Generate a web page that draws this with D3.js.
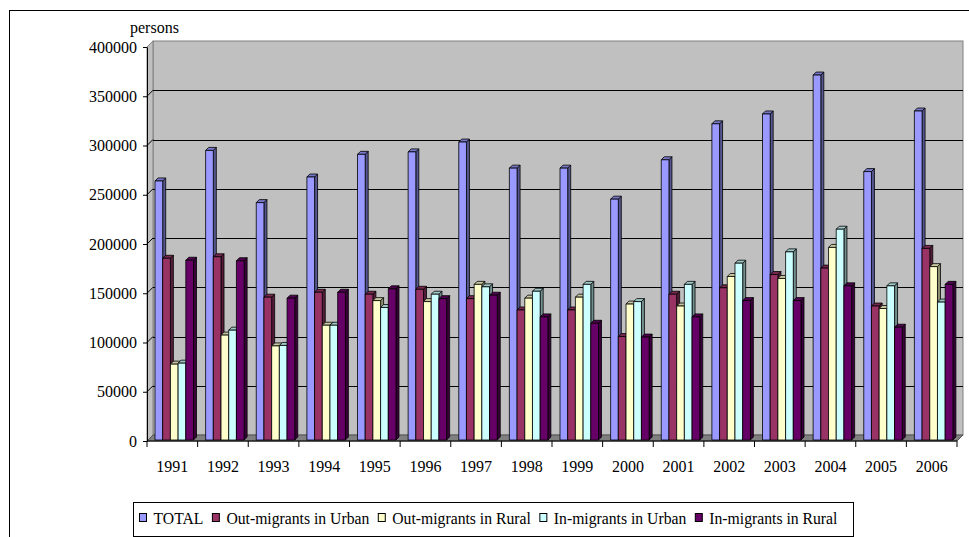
<!DOCTYPE html>
<html>
<head>
<meta charset="utf-8">
<script src="https://cdn.jsdelivr.net/npm/d3@7"></script>
<style>
  html, body { margin: 0; padding: 0; background: #fff; }
  svg { display: block; font-family: "Liberation Serif", "Times New Roman", serif; }
</style>
</head>
<body>
<script>
// Migration flows by year, persons
const years = ['1991','1992','1993','1994','1995','1996','1997','1998','1999','2000','2001','2002','2003','2004','2005','2006'];
const seriesNames = ['TOTAL','Out-migrants in Urban','Out-migrants in Rural','In-migrants in Urban','In-migrants in Rural'];
const seriesColors = ['#9999FF','#993366','#FFFFCC','#CCFFFF','#660066'];

const total     = [263000, 294000, 241000, 267000, 290000, 292500, 302500, 276000, 276000, 244500, 284500, 321000, 331000, 370500, 272500, 334000];
const outUrban  = [184500, 186000, 145000, 150000, 148000, 153000, 143500, 132000, 132000, 105000, 148000, 154500, 168000, 174500, 136000, 194500];
const outRural  = [ 77000, 106500,  95500, 116500, 141500, 140500, 158000, 144000, 145000, 138000, 136000, 166000, 164000, 195500, 133500, 176000];
const inUrban   = [ 78000, 111500,  96000, 116500, 134500, 148000, 155500, 151000, 158000, 140500, 158000, 179500, 191000, 214000, 156500, 140000];
const inRural   = [182500, 182000, 144000, 150000, 153500, 143500, 147000, 125000, 118500, 104500, 125000, 141500, 141500, 156500, 114500, 158000];

const yTicks = [0, 50000, 100000, 150000, 200000, 250000, 300000, 350000, 400000];
const unitLabel = 'persons';

const seriesValues = [total, outUrban, outRural, inUrban, inRural];

const W = 969, H = 537;
const svg = d3.select('body').append('svg').attr('width', W).attr('height', H);

// outer chart frame (extends beyond the visible area on right/bottom)
svg.append('rect').attr('x', 9.5).attr('y', 10.5).attr('width', 1200).attr('height', 1200)
  .attr('fill', 'none').attr('stroke', '#000');

// 3D box geometry
const DX = 6, DY = -6;              // full depth offset of the back wall
const x = d3.scaleBand(years, [147, 957]);
const y = d3.scaleLinear([0, 400000], [441, 47]);
const sub = d3.scaleBand(seriesNames, [0, 38.5]);
const groupInset = 7;
const barFront = 1 / 6;             // depth fraction of bar front faces
const barDepth = 3;                 // px depth of each bar

const x0 = x.range()[0], x1 = x.range()[1];

// back wall
svg.append('rect')
  .attr('x', x0 + DX).attr('y', y(400000) + DY)
  .attr('width', x1 - x0).attr('height', y(0) - y(400000))
  .attr('fill', '#C0C0C0').attr('stroke', '#808080');

// side wall
svg.append('polygon')
  .attr('points', [[x0, y(400000)], [x0 + DX, y(400000) + DY], [x0 + DX, y(0) + DY], [x0, y(0)]].join(' '))
  .attr('fill', '#C0C0C0').attr('stroke', '#808080');

// floor
svg.append('polygon')
  .attr('points', [[x0, y(0)], [x0 + DX, y(0) + DY], [x1 + DX, y(0) + DY], [x1, y(0)]].join(' '))
  .attr('fill', '#808080').attr('stroke', '#555');

// gridlines on back and side walls
const grid = svg.append('g').attr('stroke', '#000').attr('stroke-width', 1);
yTicks.filter(t => t > 0 && t < 400000).forEach(t => {
  const yy = Math.round(y(t) + DY) + 0.5;
  grid.append('line').attr('x1', x0 + DX).attr('x2', x1 + DX).attr('y1', yy).attr('y2', yy);
  grid.append('line').attr('x1', x0).attr('x2', x0 + DX).attr('y1', y(t)).attr('y2', y(t) + DY);
});

// bars
const fx = DX * barFront, fy = DY * barFront;
const bars = svg.append('g').attr('stroke', '#000').attr('stroke-width', 0.8).attr('stroke-linejoin', 'round');
years.forEach((yr, i) => {
  seriesNames.forEach((s, k) => {
    const v = seriesValues[k][i];
    const c = seriesColors[k];
    const bx = x(yr) + groupInset + sub(s) + fx;
    const bw = sub.bandwidth();
    const top = y(v) + fy, bot = y(0) + fy;
    const d = barDepth;
    const g = bars.append('g');
    g.append('polygon')
      .attr('points', [[bx + bw, top], [bx + bw + d, top - d], [bx + bw + d, bot - d], [bx + bw, bot]].join(' '))
      .attr('fill', d3.color(c).darker(1.6));
    g.append('polygon')
      .attr('points', [[bx, top], [bx + d, top - d], [bx + bw + d, top - d], [bx + bw, top]].join(' '))
      .attr('fill', d3.color(c).darker(0.7));
    g.append('rect')
      .attr('x', bx).attr('y', top).attr('width', bw).attr('height', bot - top)
      .attr('fill', c);
  });
});

// value axis
const yAxis = svg.append('g').attr('transform', `translate(${x0},0)`)
  .call(d3.axisLeft(y).tickValues(yTicks).tickFormat(d3.format('d')).tickSize(4).tickSizeOuter(0).tickPadding(6));
yAxis.selectAll('text').attr('font-size', 16).attr('font-family', '"Liberation Serif", serif').attr('fill', '#000');
yAxis.selectAll('line,path').attr('stroke', '#000');

svg.append('text').attr('x', 130).attr('y', 33).attr('font-size', 16).attr('fill', '#000').text(unitLabel);

// category axis
svg.append('line').attr('x1', x0).attr('x2', x1).attr('y1', y(0)).attr('y2', y(0)).attr('stroke', '#000');
const xb = [...years.map(yr => x(yr)), x1];
svg.append('g').attr('stroke', '#000').selectAll('line').data(xb).join('line')
  .attr('x1', d => d).attr('x2', d => d).attr('y1', y(0)).attr('y2', y(0) + 6);
const xAxis = svg.append('g').attr('transform', `translate(0,${y(0)})`)
  .call(d3.axisBottom(x).tickSize(0).tickPadding(19.6));
xAxis.select('.domain').remove();
xAxis.selectAll('text').attr('font-size', 16).attr('font-family', '"Liberation Serif", serif').attr('fill', '#000');

// legend
const legend = svg.append('g');
legend.append('rect').attr('x', 133.5).attr('y', 502.5).attr('width', 720).attr('height', 34)
  .attr('fill', '#fff').attr('stroke', '#000');
let lx = 139.5;
seriesNames.forEach((s, k) => {
  legend.append('rect').attr('x', lx).attr('y', 513.5).attr('width', 7).attr('height', 8)
    .attr('fill', seriesColors[k]).attr('stroke', '#000');
  const t = legend.append('text').attr('x', lx + 14).attr('y', 524).attr('font-size', 15.7).attr('fill', '#000').text(s);
  lx += 14 + t.node().getComputedTextLength() + 9;
});
</script>
</body>
</html>
